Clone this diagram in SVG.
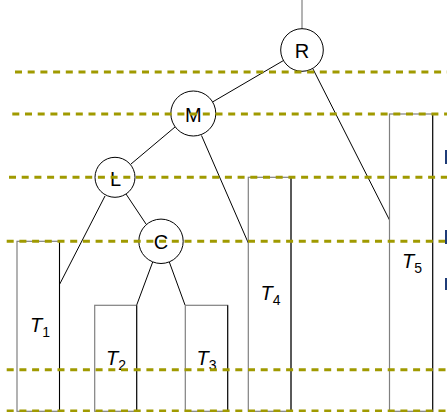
<svg xmlns="http://www.w3.org/2000/svg" width="447" height="412" viewBox="0 0 447 412">
<style>
.edge{stroke:#000;stroke-width:1;fill:none}
.gray{stroke:#808080;stroke-width:1.2;fill:none}
.node circle{fill:#fff;stroke:#000;stroke-width:1}
.lbl{font-family:"Liberation Sans",Arial,sans-serif;font-size:20px;fill:#000}
.tl{font-family:"Liberation Sans",Arial,sans-serif;font-size:20px;font-style:italic;fill:#000}
.sub{font-size:14px;font-style:normal}
.dash{stroke:#a09a00;stroke-width:3;stroke-dasharray:7 5.7;fill:none}
.mark{fill:#1f3c78}
</style>
<rect width="447" height="412" fill="#fff"/>
<g id="connectors">
<line class="gray" x1="302" y1="0" x2="302" y2="29"/>
<line class="edge" x1="283.5" y1="60.5" x2="212.5" y2="102"/>
<line class="edge" x1="313" y1="69" x2="389.5" y2="220"/>
<line class="edge" x1="175" y1="127" x2="131" y2="164"/>
<line class="edge" x1="201.5" y1="135.5" x2="248.3" y2="243"/>
<line class="edge" x1="105" y1="196" x2="59.5" y2="284.5"/>
<line class="edge" x1="126" y1="194" x2="146" y2="224"/>
<line class="edge" x1="152.7" y1="262" x2="136.7" y2="305"/>
<line class="edge" x1="169.3" y1="262" x2="185" y2="305"/>
</g>
<g id="T1">
<rect class="gray" x="17" y="241.3" width="42.5" height="170"/>
<line class="edge" x1="59.5" y1="241.3" x2="59.5" y2="412"/>
<text class="tl" x="30" y="332">T<tspan class="sub" dy="5">1</tspan></text>
</g>
<g id="T2">
<rect class="gray" x="94.7" y="305.3" width="42" height="106"/>
<line class="edge" x1="136.7" y1="305.3" x2="136.7" y2="412"/>
<text class="tl" x="106" y="365">T<tspan class="sub" dy="5">2</tspan></text>
</g>
<g id="T3">
<rect class="gray" x="185.3" y="305.3" width="42.4" height="106"/>
<line class="edge" x1="227.7" y1="305.3" x2="227.7" y2="412"/>
<text class="tl" x="196.5" y="365">T<tspan class="sub" dy="5">3</tspan></text>
</g>
<g id="T4">
<rect class="gray" x="248.3" y="177.3" width="42.7" height="234"/>
<line class="edge" x1="291" y1="177.3" x2="291" y2="412"/>
<text class="tl" x="260.5" y="300">T<tspan class="sub" dy="5">4</tspan></text>
</g>
<g id="T5">
<rect class="gray" x="389.5" y="114" width="43.2" height="297.3"/>
<line class="edge" x1="432.7" y1="114" x2="432.7" y2="412"/>
<text class="tl" x="402" y="268">T<tspan class="sub" dy="5">5</tspan></text>
</g>
<g id="R" class="node">
<circle cx="302" cy="50" r="21.3"/>
<text class="lbl" x="302" y="57.5" text-anchor="middle">R</text>
</g>
<g id="M" class="node">
<circle cx="193.3" cy="113.5" r="22.5"/>
<text class="lbl" x="193.3" y="122" text-anchor="middle">M</text>
</g>
<g id="L" class="node">
<circle cx="115" cy="177.3" r="20"/>
<text class="lbl" x="115.5" y="186" text-anchor="middle">L</text>
</g>
<g id="C" class="node">
<circle cx="161" cy="241.3" r="22.2"/>
<text class="lbl" x="161" y="249" text-anchor="middle">C</text>
</g>
<g id="levels">
<line class="dash" x1="15" y1="72" x2="447" y2="72"/>
<line class="dash" x1="12.3" y1="114" x2="447" y2="114"/>
<line class="dash" x1="9" y1="177.3" x2="447" y2="177.3"/>
<line class="dash" x1="6.7" y1="241.3" x2="447" y2="241.3"/>
<line class="dash" x1="6.7" y1="369.7" x2="447" y2="369.7"/>
<line class="dash" x1="6.7" y1="411" x2="447" y2="411"/>
</g>
<g id="marks">
<rect class="mark" x="445" y="150" width="2" height="14"/>
<rect class="mark" x="445" y="230" width="2" height="14"/>
<rect class="mark" x="445" y="278" width="2" height="12"/>
</g>
</svg>
